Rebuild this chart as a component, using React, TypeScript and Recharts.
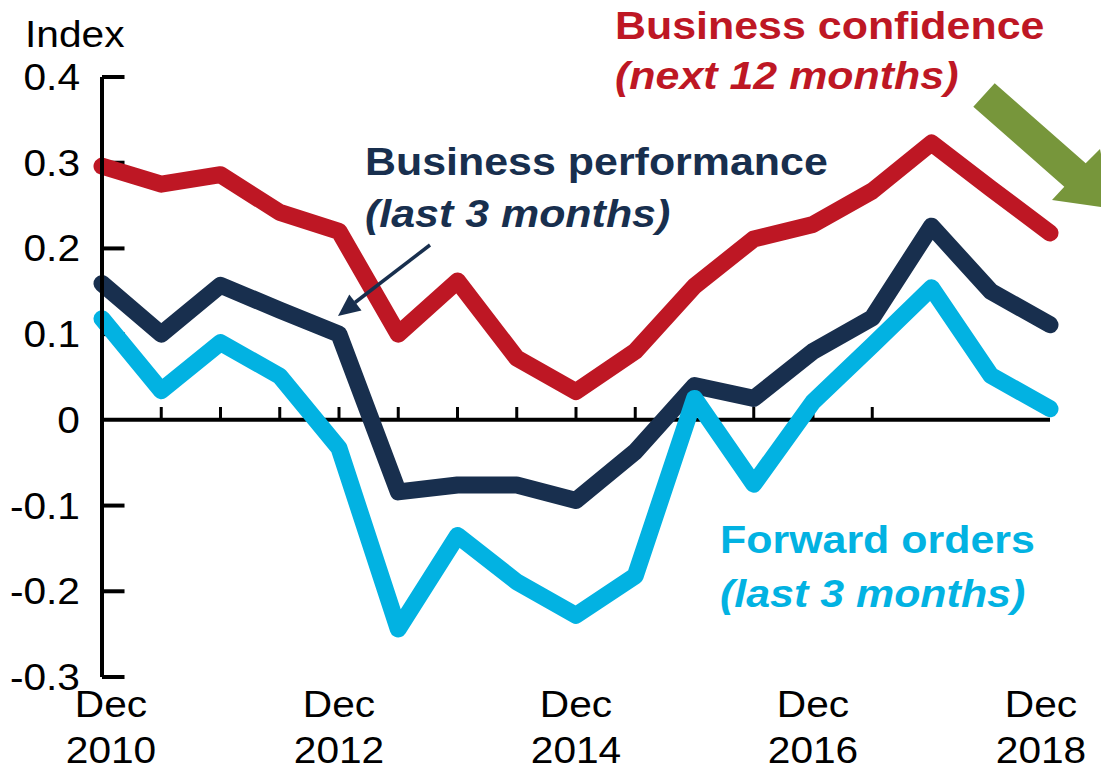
import React from 'react';
import { LineChart, Line, XAxis, YAxis, ReferenceLine } from 'recharts';

const periods = [
  'Dec 2010', 'Jun 2011', 'Dec 2011', 'Jun 2012', 'Dec 2012', 'Jun 2013', 'Dec 2013', 'Jun 2014',
  'Dec 2014', 'Jun 2015', 'Dec 2015', 'Jun 2016', 'Dec 2016', 'Jun 2017', 'Dec 2017', 'Jun 2018', 'Dec 2018',
];

// business confidence (next 12 months)
const confidence = [0.296, 0.275, 0.286, 0.242, 0.22, 0.1, 0.162, 0.072, 0.033, 0.08, 0.156, 0.211, 0.228, 0.267, 0.323, 0.27, 0.218];
// business performance (last 3 months)
const performance = [0.159, 0.1, 0.157, 0.128, 0.1, -0.084, -0.076, -0.076, -0.094, -0.037, 0.04, 0.025, 0.08, 0.119, 0.226, 0.15, 0.111];
// forward orders (last 3 months)
const orders = [0.118, 0.034, 0.09, 0.051, -0.033, -0.244, -0.135, -0.189, -0.228, -0.182, 0.025, -0.075, 0.021, 0.087, 0.154, 0.052, 0.013];

const xLabels = ['Dec 2010', 'Dec 2012', 'Dec 2014', 'Dec 2016', 'Dec 2018'];
const yTicks = [0.4, 0.3, 0.2, 0.1, 0, -0.1, -0.2, -0.3];
// small tick marks on the zero line (own scale, 14 steps)
const zeroTicks = [1, 2, 3, 4, 5, 6, 7, 8, 9, 10, 11, 12, 13];

const data = periods.map((p, i) => ({
  period: p,
  confidence: confidence[i],
  performance: performance[i],
  orders: orders[i],
}));

const RED = '#BE1724';
const NAVY = '#182F4E';
const CYAN = '#02B2E2';
const GREEN = '#77963B';
const FONT = '"Liberation Sans", Arial, sans-serif';
const SX = 1.13;

const XTick = (props: any) => {
  const { x, y, payload } = props;
  if (!xLabels.includes(payload.value)) return <g />;
  const [m, yr] = String(payload.value).split(' ');
  let shift = 0;
  if (payload.value === xLabels[0]) shift = 9;
  if (payload.value === xLabels[xLabels.length - 1]) shift = -9;
  return (
    <g transform={`translate(${x + shift},${y}) scale(${SX},1)`}>
      <text textAnchor="middle" y={40} fontSize={36} fill="#000" fontFamily={FONT}>{m}</text>
      <text textAnchor="middle" y={86} fontSize={36} fill="#000" fontFamily={FONT}>{yr}</text>
    </g>
  );
};

const YTick = (props: any) => {
  const { x, y, payload } = props;
  return (
    <g transform={`translate(${x},${y}) scale(${SX},1)`}>
      <text textAnchor="end" y={13} fontSize={36} fill="#000" fontFamily={FONT}>{String(payload.value)}</text>
    </g>
  );
};

function Notes() {
  const t = (x: number, y: number, s: string, color: string, italic = false) => (
    <g transform={`translate(${x},${y}) scale(${SX},1)`}>
      <text fontSize={38} fontWeight="bold" fontStyle={italic ? 'italic' : 'normal'} fill={color} fontFamily={FONT}>{s}</text>
    </g>
  );
  return (
    <svg width={1101} height={769} style={{ position: 'absolute', left: 0, top: 0, pointerEvents: 'none' }}>
      <g transform={`translate(25,47) scale(${SX},1)`}>
        <text fontSize={36} fill="#000" fontFamily={FONT}>Index</text>
      </g>
      {t(615, 39, 'Business confidence', RED)}
      {t(615, 89, '(next 12 months)', RED, true)}
      {t(365, 175, 'Business performance', NAVY)}
      {t(365, 227, '(last 3 months)', NAVY, true)}
      {t(720, 553, 'Forward orders', CYAN)}
      {t(720, 607, '(last 3 months)', CYAN, true)}
      <line x1={430} y1={245} x2={355} y2={302.5} stroke={NAVY} strokeWidth={3.5} />
      <polygon points="338,316 361.5,310.4 349.3,294.6" fill={NAVY} />
      <polygon
        points="994.7,83.2 1085.7,163.2 1100,149 1112,208.5 1052,200 1064.3,186.8 973.3,106.8"
        fill={GREEN}
      />
    </svg>
  );
}

export default function App() {
  return (
    <div style={{ position: 'absolute', left: 0, top: 0, width: 1101, height: 769, background: '#fff' }}>
      <LineChart width={1101} height={769} data={data} margin={{ top: 77, right: 51, bottom: 0, left: 0 }}>
        <XAxis
          dataKey="period"
          interval={0}
          height={92}
          axisLine={false}
          tickLine={false}
          tickSize={0}
          tickMargin={0}
          tick={<XTick />}
        />
        <XAxis xAxisId="t" type="number" domain={[0, 14]} hide />
        <YAxis
          width={102}
          domain={[-0.3, 0.4]}
          ticks={yTicks}
          interval={0}
          axisLine={{ stroke: '#000', strokeWidth: 4 }}
          tickLine={false}
          tickSize={0}
          tickMargin={22}
          tick={<YTick />}
        />
        <ReferenceLine y={0} stroke="#000" strokeWidth={4} />
        {yTicks.filter((v) => v !== 0).map((v) => (
          <ReferenceLine
            key={'y' + v}
            xAxisId="t"
            segment={[{ x: 0, y: v }, { x: 0.38, y: v }]}
            stroke="#000"
            strokeWidth={4}
          />
        ))}
        {zeroTicks.map((v) => (
          <ReferenceLine
            key={'z' + v}
            xAxisId="t"
            segment={[{ x: v, y: 0 }, { x: v, y: 0.015 }]}
            stroke="#000"
            strokeWidth={3}
          />
        ))}
        <Line dataKey="confidence" stroke={RED} strokeWidth={17} dot={false} strokeLinecap="round" strokeLinejoin="round" isAnimationActive={false} />
        <Line dataKey="performance" stroke={NAVY} strokeWidth={17} dot={false} strokeLinecap="round" strokeLinejoin="round" isAnimationActive={false} />
        <Line dataKey="orders" stroke={CYAN} strokeWidth={17} dot={false} strokeLinecap="round" strokeLinejoin="round" isAnimationActive={false} />
      </LineChart>
      <Notes />
    </div>
  );
}
